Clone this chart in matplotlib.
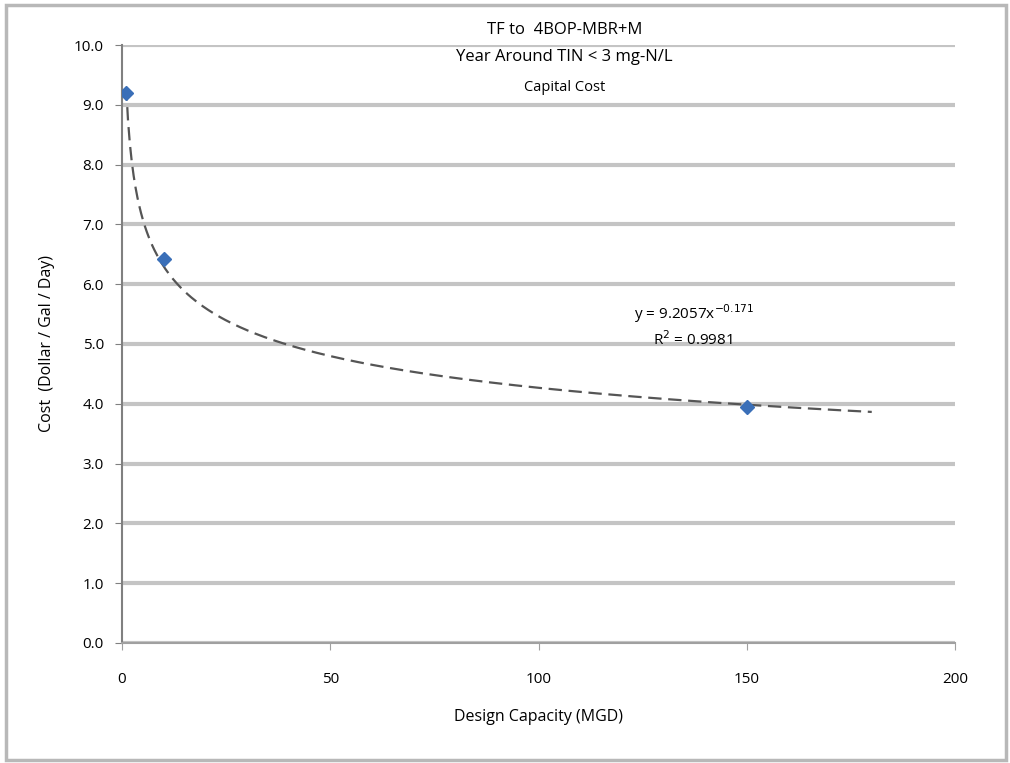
import numpy as np
import matplotlib
matplotlib.use("Agg")
import matplotlib.pyplot as plt
from matplotlib.patches import Rectangle

# Data
capacity_mgd = [1, 10, 150]
cost_per_gpd = [9.2, 6.42, 3.95]
x_ticks = [0, 50, 100, 150, 200]
y_ticks = [0, 1, 2, 3, 4, 5, 6, 7, 8, 9, 10]
title_lines = ["TF to  4BOP-MBR+M", "Year Around TIN < 3 mg-N/L", "Capital Cost"]
eq_text = "y = 9.2057x$^{-0.171}$"
r2_text = "R$^2$ = 0.9981"
trend_range = [1, 180]

plt.rcParams['font.family'] = ['Open Sans', 'DejaVu Sans']

fig = plt.figure(figsize=(10.10, 7.63), dpi=100)
fig.patch.set_facecolor('white')
fig.patches.append(Rectangle((0.006, 0.004), 0.99, 0.99, transform=fig.transFigure,
                             fill=False, edgecolor='#b8b8b8', linewidth=2.5))

ax = fig.add_axes([0.1208, 0.1573, 0.8248, 0.7837])

# Power-law trend line fitted to the data
b, ln_a = np.polyfit(np.log(capacity_mgd), np.log(cost_per_gpd), 1)
xt = np.linspace(trend_range[0], trend_range[1], 400)
yt = np.exp(ln_a) * xt ** b
ax.plot(xt, yt, color='#555555', linewidth=1.6, linestyle=(0, (6, 3)), zorder=3)

ax.plot(capacity_mgd, cost_per_gpd, linestyle='none', marker='D', markersize=7,
        color='#3a6fb8', zorder=4)

ax.set_xlim(0, 200)
ax.set_ylim(0, 10)
ax.set_xticks(x_ticks)
ax.set_xticklabels([str(v) for v in x_ticks], fontsize=11)
ax.set_yticks(y_ticks)
ax.set_yticklabels([f"{v:.1f}" for v in y_ticks], fontsize=11)
ax.yaxis.grid(True, color='#c4c4c4', linewidth=3)
ax.set_axisbelow(True)
for s in ['top', 'right']:
    ax.spines[s].set_visible(False)
ax.spines['left'].set_color('#808080')
ax.spines['left'].set_linewidth(1.5)
ax.spines['bottom'].set_color('#a0a0a0')
ax.spines['bottom'].set_linewidth(1.5)
ax.tick_params(axis='y', length=5, color='#808080', pad=8)
ax.tick_params(axis='x', length=5, color='#a0a0a0', direction='out', pad=16)

ax.set_xlabel("Design Capacity (MGD)", fontsize=11.5, labelpad=16)
ax.set_ylabel("Cost  (Dollar / Gal / Day)", fontsize=11.5, labelpad=14)

fig.text(0.559, 0.961, title_lines[0], ha='center', va='center', fontsize=12)
fig.text(0.559, 0.925, title_lines[1], ha='center', va='center', fontsize=12)
fig.text(0.559, 0.885, title_lines[2], ha='center', va='center', fontsize=10.5)

ax.text(0.615, 0.55, eq_text, transform=ax.transAxes, ha='left', va='center', fontsize=11)
ax.text(0.638, 0.507, r2_text, transform=ax.transAxes, ha='left', va='center', fontsize=11)

fig.savefig("out.png", dpi=100, facecolor='white')
